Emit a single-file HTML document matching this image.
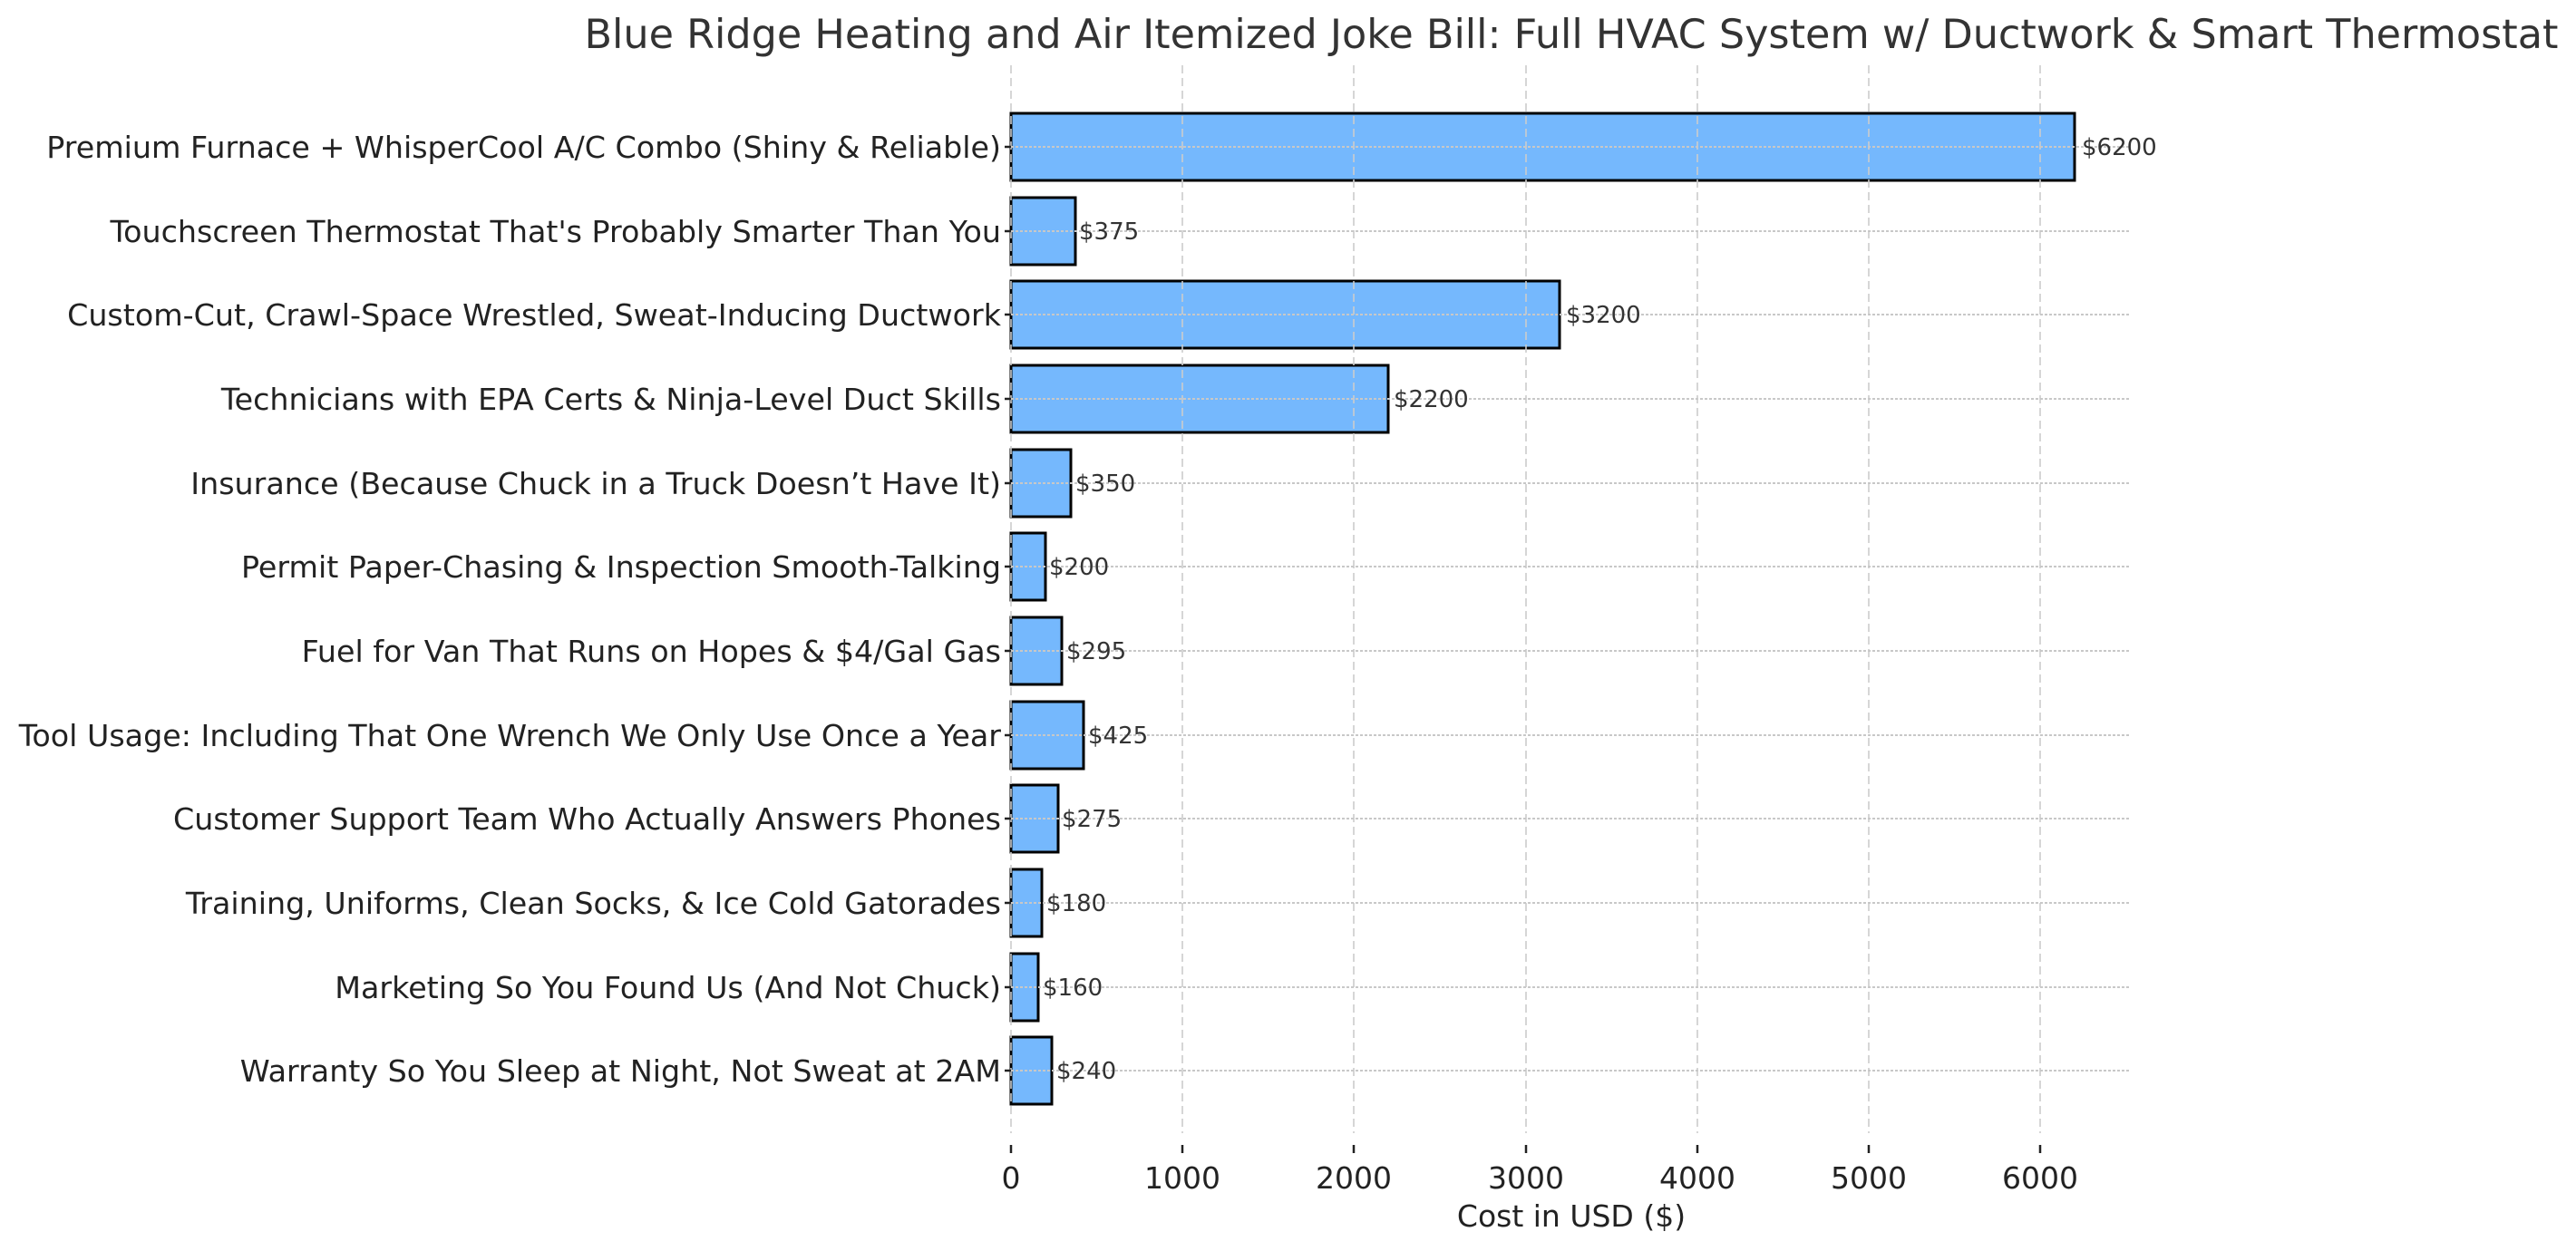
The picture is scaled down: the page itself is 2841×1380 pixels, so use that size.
<!DOCTYPE html>
<html><head><meta charset="utf-8"><style>
html,body{margin:0;padding:0;background:#fff;}
svg{display:block;font-family:"DejaVu Sans","Liberation Sans",sans-serif;}
</style></head><body>
<svg width="2841" height="1380" viewBox="0 0 2841 1380" xmlns="http://www.w3.org/2000/svg">
<rect width="2841" height="1380" fill="#fff"/>
<text x="1733" y="53" font-size="44.5" fill="#333" text-anchor="middle">Blue Ridge Heating and Air Itemized Joke Bill: Full HVAC System w/ Ductwork &amp; Smart Thermostat</text>
<g id="bars" stroke="#000" stroke-width="3" fill="#75b8fd">
<rect x="1115" y="125" width="1173" height="74"/>
<rect x="1115" y="218" width="71" height="74"/>
<rect x="1115" y="310" width="605" height="74"/>
<rect x="1115" y="403" width="416" height="74"/>
<rect x="1115" y="496" width="66" height="74"/>
<rect x="1115" y="588" width="38" height="74"/>
<rect x="1115" y="681" width="56" height="74"/>
<rect x="1115" y="774" width="80" height="74"/>
<rect x="1115" y="866" width="52" height="74"/>
<rect x="1115" y="959" width="34" height="74"/>
<rect x="1115" y="1052" width="30" height="74"/>
<rect x="1115" y="1144" width="45" height="74"/>
</g>
<g stroke="#ccc" stroke-width="1.6" stroke-dasharray="9,5">
<line x1="1115" y1="72" x2="1115" y2="1250"/>
<line x1="1304" y1="72" x2="1304" y2="1250"/>
<line x1="1493" y1="72" x2="1493" y2="1250"/>
<line x1="1683" y1="72" x2="1683" y2="1250"/>
<line x1="1872" y1="72" x2="1872" y2="1250"/>
<line x1="2061" y1="72" x2="2061" y2="1250"/>
<line x1="2250" y1="72" x2="2250" y2="1250"/>
</g>
<g stroke="#c8c8c8" stroke-width="2" stroke-dasharray="3,2">
<line x1="1115" y1="162" x2="2350" y2="162"/>
<line x1="1115" y1="255" x2="2350" y2="255"/>
<line x1="1115" y1="347" x2="2350" y2="347"/>
<line x1="1115" y1="440" x2="2350" y2="440"/>
<line x1="1115" y1="533" x2="2350" y2="533"/>
<line x1="1115" y1="625" x2="2350" y2="625"/>
<line x1="1115" y1="718" x2="2350" y2="718"/>
<line x1="1115" y1="811" x2="2350" y2="811"/>
<line x1="1115" y1="903" x2="2350" y2="903"/>
<line x1="1115" y1="996" x2="2350" y2="996"/>
<line x1="1115" y1="1089" x2="2350" y2="1089"/>
<line x1="1115" y1="1181" x2="2350" y2="1181"/>
</g>
<g stroke="#222" stroke-width="2.5">
<line x1="1108" y1="162" x2="1115" y2="162"/><line x1="1108" y1="255" x2="1115" y2="255"/>
<line x1="1108" y1="347" x2="1115" y2="347"/><line x1="1108" y1="440" x2="1115" y2="440"/>
<line x1="1108" y1="533" x2="1115" y2="533"/><line x1="1108" y1="625" x2="1115" y2="625"/>
<line x1="1108" y1="718" x2="1115" y2="718"/><line x1="1108" y1="811" x2="1115" y2="811"/>
<line x1="1108" y1="903" x2="1115" y2="903"/><line x1="1108" y1="996" x2="1115" y2="996"/>
<line x1="1108" y1="1089" x2="1115" y2="1089"/><line x1="1108" y1="1181" x2="1115" y2="1181"/>
<line x1="1115" y1="1263" x2="1115" y2="1272"/><line x1="1304" y1="1263" x2="1304" y2="1272"/>
<line x1="1493" y1="1263" x2="1493" y2="1272"/><line x1="1683" y1="1263" x2="1683" y2="1272"/>
<line x1="1872" y1="1263" x2="1872" y2="1272"/><line x1="2061" y1="1263" x2="2061" y2="1272"/>
<line x1="2250" y1="1263" x2="2250" y2="1272"/>
</g>
<g font-size="33.3" fill="#222" text-anchor="end">
<text x="1104" y="174">Premium Furnace + WhisperCool A/C Combo (Shiny &amp; Reliable)</text>
<text x="1104" y="267">Touchscreen Thermostat That's Probably Smarter Than You</text>
<text x="1104" y="359">Custom-Cut, Crawl-Space Wrestled, Sweat-Inducing Ductwork</text>
<text x="1104" y="452">Technicians with EPA Certs &amp; Ninja-Level Duct Skills</text>
<text x="1104" y="545">Insurance (Because Chuck in a Truck Doesn’t Have It)</text>
<text x="1104" y="637">Permit Paper-Chasing &amp; Inspection Smooth-Talking</text>
<text x="1104" y="730">Fuel for Van That Runs on Hopes &amp; $4/Gal Gas</text>
<text x="1104" y="823">Tool Usage: Including That One Wrench We Only Use Once a Year</text>
<text x="1104" y="915">Customer Support Team Who Actually Answers Phones</text>
<text x="1104" y="1008">Training, Uniforms, Clean Socks, &amp; Ice Cold Gatorades</text>
<text x="1104" y="1101">Marketing So You Found Us (And Not Chuck)</text>
<text x="1104" y="1193">Warranty So You Sleep at Night, Not Sweat at 2AM</text>
</g>
<g font-size="26" fill="#333">
<text x="2296" y="171">$6200</text>
<text x="1190" y="264">$375</text>
<text x="1727" y="356">$3200</text>
<text x="1537" y="449">$2200</text>
<text x="1186" y="542">$350</text>
<text x="1157" y="634">$200</text>
<text x="1176" y="727">$295</text>
<text x="1200" y="820">$425</text>
<text x="1171" y="912">$275</text>
<text x="1154" y="1005">$180</text>
<text x="1150" y="1098">$160</text>
<text x="1165" y="1190">$240</text>
</g>
<g font-size="33" fill="#222" text-anchor="middle">
<text x="1115" y="1311">0</text><text x="1304" y="1311">1000</text>
<text x="1493" y="1311">2000</text><text x="1683" y="1311">3000</text>
<text x="1872" y="1311">4000</text><text x="2061" y="1311">5000</text>
<text x="2250" y="1311">6000</text>
<text x="1733" y="1353">Cost in USD ($)</text>
</g>
</svg>
</body></html>
